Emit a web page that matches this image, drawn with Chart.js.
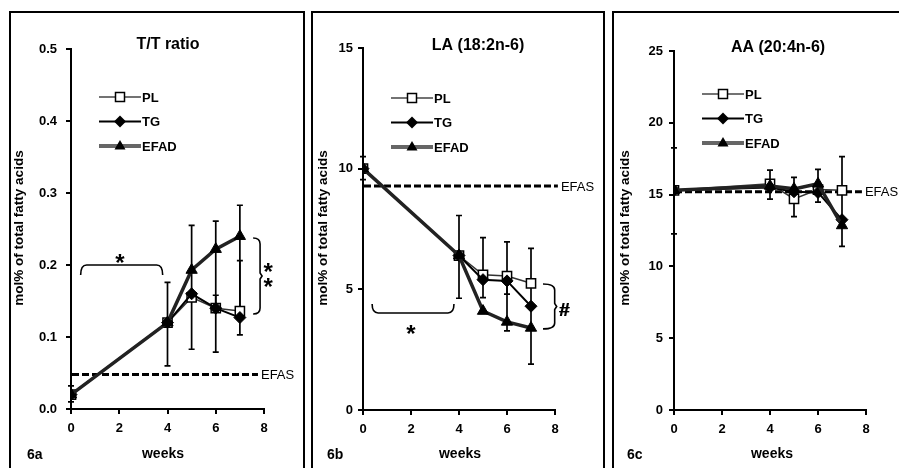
<!DOCTYPE html>
<html>
<head>
<meta charset="utf-8">
<script src="https://cdn.jsdelivr.net/npm/chart.js@4.4.1/dist/chart.umd.min.js"></script>
<style>
  html, body { margin: 0; padding: 0; background: #fff; }
  #page { position: relative; width: 899px; height: 468px; overflow: hidden; }
  .frame { position: absolute; top: 11px; height: 470px; border: 2px solid #000; border-bottom: none; box-sizing: border-box; }
  canvas { position: absolute; top: 0; }
</style>
</head>
<body>
<div id="page">
  <div class="frame" style="left:9px; width:296px;"></div>
  <div class="frame" style="left:311px; width:294px;"></div>
  <div class="frame" style="left:612px; width:300px;"></div>
  <canvas id="chartA" width="305" height="468" style="left:0px;"></canvas>
  <canvas id="chartB" width="299" height="468" style="left:306px;"></canvas>
  <canvas id="chartC" width="293" height="468" style="left:606px;"></canvas>
</div>
<script>
// Semanas y ticks del eje x
const weeks = [0, 4, 5, 6, 7];
const xTicks = [0, 2, 4, 6, 8];

// 6a - T/T ratio
const ttPL   = [0.020, 0.120, 0.155, 0.140, 0.136];
const ttTG   = [0.020, 0.120, 0.160, 0.140, 0.127];
const ttEFAD = [0.020, 0.120, 0.193, 0.222, 0.240];
const ttErr  = [[0, 0.010, 0.032], [4, 0.060, 0.176], [5, 0.083, 0.255], [6, 0.079, 0.261], [6, 0.140, 0.158], [7, 0.103, 0.283], [7, 0.136, 0.206]];
const ttEFAS = 0.048;
const ttTicks = [0, 0.1, 0.2, 0.3, 0.4, 0.5];

// 6b - LA (18:2n-6)
const laPL   = [10.0, 6.4, 5.6, 5.55, 5.25];
const laTG   = [10.0, 6.4, 5.4, 5.35, 4.3];
const laEFAD = [10.0, 6.4, 4.1, 3.65, 3.4];
const laErr  = [[0, 9.55, 10.5], [4, 4.63, 8.06], [5, 4.66, 7.14], [6, 3.28, 6.97], [6, 4.8, 5.35], [7, 1.9, 6.7]];
const laEFAS = 9.28;
const laTicks = [0, 5, 10, 15];

// 6c - AA (20:4n-6)
const aaPL   = [15.3, 15.75, 14.7, 15.35, 15.3];
const aaTG   = [15.3, 15.5, 15.2, 15.15, 13.25];
const aaEFAD = [15.3, 15.6, 15.4, 15.75, 12.85];
const aaErr  = [[0, 12.27, 18.26], [4, 14.68, 16.7], [5, 13.47, 16.2], [6, 14.47, 16.76], [7, 11.39, 17.64]];
const aaEFAS = 15.2;
const aaTicks = [0, 5, 10, 15, 20, 25];

const FONT = '"Liberation Sans", Arial, sans-serif';

// Configuración de cada panel (posiciones y textos)
const panels = [
  {
    id: 'chartA', title: 'T/T ratio', tag: '6a',
    pl: ttPL, tg: ttTG, efad: ttEFAD, err: ttErr, efas: ttEFAS, yTicks: ttTicks, dec: 1,
    yWidth: 71, pad: { left: 0, right: 41, top: 49, bottom: 29 }, tickPad: 9,
    titleXY: [168, 45], yTitleX: 19, tagX: 27, weeksX: 163, legendTop: 97, efasEnd: 7.75,
    brackets: [
      { kind: 'top', x0: 0.4, x1: 3.8, y: 0.200, yEnd: 0.186 },
      { kind: 'right', x0: 7.55, x1: 7.92, yTop: 0.2375, yBot: 0.132 }
    ],
    marks: [['*', 2.03, 0.211], ['*', 8.17, 0.198], ['*', 8.17, 0.178]]
  },
  {
    id: 'chartB', title: 'LA (18:2n-6)', tag: '6b',
    pl: laPL, tg: laTG, efad: laEFAD, err: laErr, efas: laEFAS, yTicks: laTicks, dec: 0,
    yWidth: 57, pad: { left: 0, right: 50, top: 48, bottom: 28 }, tickPad: 5,
    titleXY: [172, 46], yTitleX: 17, tagX: 21, weeksX: 154, legendTop: 98, efasEnd: 8.12,
    brackets: [
      { kind: 'bottom', x0: 0.38, x1: 3.79, y: 4.02, yEnd: 4.39 },
      { kind: 'right', x0: 7.5, x1: 8.07, yTop: 5.22, yBot: 3.36 }
    ],
    marks: [['*', 2.0, 3.40], ['#', 8.38, 4.19]]
  },
  {
    id: 'chartC', title: 'AA (20:4n-6)', tag: '6c',
    pl: aaPL, tg: aaTG, efad: aaEFAD, err: aaErr, efas: aaEFAS, yTicks: aaTicks, dec: 0,
    yWidth: 68, pad: { left: 0, right: 33, top: 51, bottom: 28 }, tickPad: 6,
    titleXY: [172, 47.5], yTitleX: 19, tagX: 21, weeksX: 166, legendTop: 94, efasEnd: 7.83,
    brackets: [],
    marks: []
  }
];

// Dibujar marcadores para la leyenda
function drawMarker(ctx, style, x, y) {
  ctx.save();
  ctx.beginPath();
  if (style === 'rect') {
    ctx.rect(x - 4.5, y - 4.5, 9, 9);
    ctx.fillStyle = '#fff';
    ctx.fill();
    ctx.lineWidth = 1.5;
    ctx.strokeStyle = '#000';
    ctx.stroke();
  } else if (style === 'rectRot') {
    ctx.moveTo(x, y - 6); ctx.lineTo(x + 6, y); ctx.lineTo(x, y + 6); ctx.lineTo(x - 6, y);
    ctx.closePath();
    ctx.fillStyle = '#000';
    ctx.fill();
  } else {
    ctx.moveTo(x, y - 6); ctx.lineTo(x + 5.5, y + 3.5); ctx.lineTo(x - 5.5, y + 3.5);
    ctx.closePath();
    ctx.fillStyle = '#000';
    ctx.fill();
  }
  ctx.restore();
}

// Plugin con las barras de error, la línea EFAS, la leyenda y los textos
function makePanelPlugin(p) {
  return {
    id: 'panelExtras',
    beforeDatasetsDraw(chart) {
      const ctx = chart.ctx;
      const xs = chart.scales.x, ys = chart.scales.y;
      const area = chart.chartArea;
      ctx.save();
      // Línea EFAS
      const ey = ys.getPixelForValue(p.efas);
      ctx.setLineDash([7, 3]);
      ctx.lineWidth = 3;
      ctx.strokeStyle = '#000';
      ctx.beginPath();
      ctx.moveTo(area.left + 1, ey);
      ctx.lineTo(xs.getPixelForValue(p.efasEnd), ey);
      ctx.stroke();
      ctx.setLineDash([]);
      ctx.fillStyle = '#000';
      ctx.font = '13px ' + FONT;
      ctx.textAlign = 'left';
      ctx.textBaseline = 'middle';
      ctx.fillText('EFAS', xs.getPixelForValue(p.efasEnd) + 3, ey + 1);
      // Barras de error
      ctx.lineWidth = 1.7;
      p.err.forEach(([w, lo, hi]) => {
        const x = xs.getPixelForValue(w);
        const y1 = ys.getPixelForValue(lo), y2 = ys.getPixelForValue(hi);
        ctx.beginPath();
        ctx.moveTo(x, y1); ctx.lineTo(x, y2);
        ctx.moveTo(x - 3, y1); ctx.lineTo(x + 3, y1);
        ctx.moveTo(x - 3, y2); ctx.lineTo(x + 3, y2);
        ctx.stroke();
      });
      ctx.restore();
    },
    afterDraw(chart) {
      const ctx = chart.ctx;
      const xs = chart.scales.x, ys = chart.scales.y;
      const area = chart.chartArea;
      ctx.save();
      ctx.fillStyle = '#000';
      ctx.strokeStyle = '#000';

      // Título
      ctx.font = 'bold 16px ' + FONT;
      ctx.textAlign = 'center';
      ctx.textBaseline = 'middle';
      ctx.fillText(p.title, p.titleXY[0], p.titleXY[1]);

      // Título del eje y
      ctx.save();
      ctx.translate(p.yTitleX, 228);
      ctx.rotate(-Math.PI / 2);
      ctx.font = 'bold 13.5px ' + FONT;
      ctx.fillText('mol% of total fatty acids', 0, 0);
      ctx.restore();

      // weeks y etiqueta del panel
      ctx.font = 'bold 14px ' + FONT;
      ctx.fillText('weeks', p.weeksX, 454);
      ctx.textAlign = 'left';
      ctx.font = 'bold 14px ' + FONT;
      ctx.fillText(p.tag, p.tagX, 455);

      // Leyenda
      const items = [
        { text: 'PL', style: 'rect', color: '#444', width: 1.5 },
        { text: 'TG', style: 'rectRot', color: '#000', width: 2 },
        { text: 'EFAD', style: 'triangle', color: '#666', width: 4 }
      ];
      items.forEach((it, i) => {
        const y = p.legendTop + i * 24.5;
        const x0 = area.left + 28, x1 = area.left + 70;
        ctx.beginPath();
        ctx.lineWidth = it.width;
        ctx.strokeStyle = it.color;
        ctx.moveTo(x0, y); ctx.lineTo(x1, y);
        ctx.stroke();
        drawMarker(ctx, it.style, (x0 + x1) / 2, y);
        ctx.fillStyle = '#000';
        ctx.font = 'bold 13px ' + FONT;
        ctx.textAlign = 'left';
        ctx.textBaseline = 'middle';
        ctx.fillText(it.text, x1 + 1, y + 1);
      });

      // Llaves de significancia
      ctx.strokeStyle = '#000';
      ctx.lineWidth = 1.6;
      p.brackets.forEach(b => {
        ctx.beginPath();
        const xa = xs.getPixelForValue(b.x0), xb = xs.getPixelForValue(b.x1);
        if (b.kind === 'top' || b.kind === 'bottom') {
          const yl = ys.getPixelForValue(b.y), ye = ys.getPixelForValue(b.yEnd);
          ctx.moveTo(xa, ye);
          ctx.quadraticCurveTo(xa, yl, xa + 6, yl);
          ctx.lineTo(xb - 6, yl);
          ctx.quadraticCurveTo(xb, yl, xb, ye);
        } else {
          const xm = xb - 2;
          const yt = ys.getPixelForValue(b.yTop), yb = ys.getPixelForValue(b.yBot);
          const ym = (yt + yb) / 2;
          ctx.moveTo(xa, yt);
          ctx.quadraticCurveTo(xm, yt, xm, yt + 6);
          ctx.lineTo(xm, ym - 3);
          ctx.lineTo(xb, ym);
          ctx.lineTo(xm, ym + 3);
          ctx.lineTo(xm, yb - 6);
          ctx.quadraticCurveTo(xm, yb, xa, yb);
        }
        ctx.stroke();
      });

      // Asteriscos y almohadilla (centrados en el punto indicado)
      ctx.textAlign = 'center';
      ctx.textBaseline = 'alphabetic';
      p.marks.forEach(([t, mx, my]) => {
        const size = t === '*' ? 24 : 19;
        const off = t === '*' ? 0.57 * size : 0.36 * size;
        ctx.font = 'bold ' + size + 'px ' + FONT;
        ctx.fillText(t, xs.getPixelForValue(mx), ys.getPixelForValue(my) + off);
        if (t === '#') {
          // un poco más grueso, como en el original
          ctx.fillText(t, xs.getPixelForValue(mx) + 0.6, ys.getPixelForValue(my) + off);
        }
      });
      ctx.restore();
    }
  };
}

function toPoints(values) {
  return weeks.map((w, i) => ({ x: w, y: values[i] }));
}

panels.forEach(p => {
  const ctx = document.getElementById(p.id).getContext('2d');
  new Chart(ctx, {
    type: 'line',
    data: {
      datasets: [
        {
          label: 'PL', data: toPoints(p.pl), order: 3,
          borderColor: '#333', borderWidth: 1.5,
          pointStyle: 'rect', pointRadius: 6.5, pointBackgroundColor: '#fff',
          pointBorderColor: '#000', pointBorderWidth: 1.5
        },
        {
          label: 'TG', data: toPoints(p.tg), order: 2,
          borderColor: '#000', borderWidth: 2,
          pointStyle: 'rectRot', pointRadius: 6, pointBackgroundColor: '#000',
          pointBorderColor: '#000', pointBorderWidth: 1
        },
        {
          label: 'EFAD', data: toPoints(p.efad), order: 1,
          borderColor: '#222', borderWidth: 3.5,
          pointStyle: 'triangle', pointRadius: 6.5, pointBackgroundColor: '#000',
          pointBorderColor: '#000', pointBorderWidth: 1
        }
      ]
    },
    options: {
      responsive: false,
      animation: false,
      devicePixelRatio: 1,
      layout: { padding: p.pad },
      plugins: { legend: { display: false }, tooltip: { enabled: false }, title: { display: false } },
      scales: {
        x: {
          type: 'linear', min: 0, max: 8,
          afterBuildTicks: s => { s.ticks = xTicks.map(v => ({ value: v })); },
          afterFit: s => { s.height = 30; },
          grid: { display: true, drawOnChartArea: false, tickLength: 5, color: '#000', lineWidth: 2 },
          border: { display: true, color: '#000', width: 2 },
          ticks: { color: '#000', font: { family: FONT, size: 13, weight: 'bold' }, padding: 7, maxRotation: 0 }
        },
        y: {
          min: p.yTicks[0], max: p.yTicks[p.yTicks.length - 1],
          afterBuildTicks: s => { s.ticks = p.yTicks.map(v => ({ value: v })); },
          afterFit: s => { s.width = p.yWidth; },
          grid: { display: true, drawOnChartArea: false, tickLength: 5, color: '#000', lineWidth: 2 },
          border: { display: true, color: '#000', width: 2 },
          ticks: {
            color: '#000', font: { family: FONT, size: 13, weight: 'bold' }, padding: p.tickPad,
            callback: v => v.toFixed(p.dec)
          }
        }
      }
    },
    plugins: [makePanelPlugin(p)]
  });
});
</script>
</body>
</html>
